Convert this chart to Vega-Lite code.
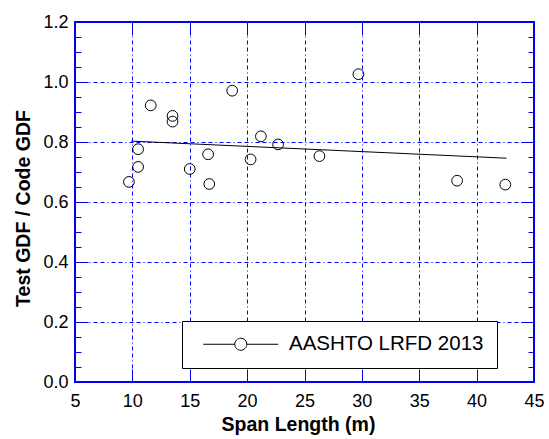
{
  "$schema": "https://vega.github.io/schema/vega-lite/v6.json",
  "width": 459,
  "height": 360,
  "autosize": {"type": "none"},
  "padding": {"left": 75, "top": 22, "right": 15, "bottom": 57},
  "background": "white",
  "config": {
    "view": {"stroke": "#0000ee", "strokeWidth": 2},
    "font": "Liberation Sans"
  },
  "datasets": {
    "pts": [
      {"span": 9.7, "ratio": 0.667, "series": "AASHTO LRFD 2013"},
      {"span": 10.5, "ratio": 0.776, "series": "AASHTO LRFD 2013"},
      {"span": 10.5, "ratio": 0.717, "series": "AASHTO LRFD 2013"},
      {"span": 11.6, "ratio": 0.922, "series": "AASHTO LRFD 2013"},
      {"span": 13.5, "ratio": 0.887, "series": "AASHTO LRFD 2013"},
      {"span": 13.5, "ratio": 0.868, "series": "AASHTO LRFD 2013"},
      {"span": 15.0, "ratio": 0.71, "series": "AASHTO LRFD 2013"},
      {"span": 16.6, "ratio": 0.759, "series": "AASHTO LRFD 2013"},
      {"span": 16.7, "ratio": 0.66, "series": "AASHTO LRFD 2013"},
      {"span": 18.7, "ratio": 0.971, "series": "AASHTO LRFD 2013"},
      {"span": 20.3, "ratio": 0.742, "series": "AASHTO LRFD 2013"},
      {"span": 21.2, "ratio": 0.819, "series": "AASHTO LRFD 2013"},
      {"span": 22.7, "ratio": 0.792, "series": "AASHTO LRFD 2013"},
      {"span": 26.3, "ratio": 0.753, "series": "AASHTO LRFD 2013"},
      {"span": 29.7, "ratio": 1.026, "series": "AASHTO LRFD 2013"},
      {"span": 38.3, "ratio": 0.671, "series": "AASHTO LRFD 2013"},
      {"span": 42.5, "ratio": 0.658, "series": "AASHTO LRFD 2013"}
    ],
    "fit": [
      {"span": 9.9, "ratio": 0.803},
      {"span": 42.6, "ratio": 0.746}
    ]
  },
  "resolve": {"axis": {"x": "independent", "y": "independent"}},
  "layer": [
    {
      "data": {"name": "pts"},
      "mark": {"type": "point", "shape": "circle", "filled": false, "size": 115, "strokeWidth": 1, "opacity": 1},
      "encoding": {
        "x": {
          "field": "span", "type": "quantitative",
          "scale": {"domain": [5, 45], "nice": false, "zero": false},
          "axis": {
            "orient": "bottom", "values": [5, 10, 15, 20, 25, 30, 35, 40, 45],
            "grid": true, "gridColor": "#0000ff", "gridDash": [4, 3, 4, 3, 1, 3], "gridWidth": 1,
            "ticks": false, "domain": false,
            "labelFontSize": 18, "labelColor": "black", "labelPadding": 10, "labelFlush": false,
            "title": "Span Length (m)", "titleFontSize": 19.5, "titleFontWeight": "bold",
            "titleColor": "black", "titlePadding": 5, "titleX": 223
          }
        },
        "y": {
          "field": "ratio", "type": "quantitative",
          "scale": {"domain": [0, 1.2], "nice": false, "zero": false},
          "axis": {
            "orient": "left", "values": [0, 0.2, 0.4, 0.6, 0.8, 1.0, 1.2], "format": ".1f",
            "grid": true, "gridColor": "#0000ff", "gridDash": [4, 3, 4, 3, 1, 3], "gridWidth": 1,
            "ticks": false, "domain": false,
            "labelFontSize": 18, "labelColor": "black", "labelPadding": 7, "labelFlush": false,
            "title": "Test GDF / Code GDF", "titleFontSize": 19.5, "titleFontWeight": "bold",
            "titleColor": "black", "titlePadding": 9, "titleY": 186
          }
        },
        "color": {
          "field": "series", "type": "nominal",
          "scale": {"range": ["black"]},
          "legend": {
            "orient": "none", "legendX": 107, "legendY": 299, "title": null,
            "strokeColor": "black", "fillColor": "white", "padding": 13,
            "symbolType": "M-6.25,0H-1M1,0H6.25M-1,0A1,1,0,1,0,1,0A1,1,0,1,0,-1,0",
            "symbolSize": 144, "symbolStrokeColor": "black", "symbolStrokeWidth": 1,
            "symbolFillColor": "white", "symbolOffset": 35.5,
            "labelOffset": 38, "labelFontSize": 20.5, "labelColor": "black",
            "labelFont": "Liberation Sans", "labelLimit": 400
          }
        }
      }
    },
    {
      "data": {"name": "fit"},
      "mark": {"type": "line", "color": "black", "strokeWidth": 1},
      "encoding": {
        "x": {
          "field": "span", "type": "quantitative",
          "scale": {"domain": [5, 45], "nice": false, "zero": false},
          "axis": {"orient": "top", "values": [10, 15, 20, 25, 30, 35, 40], "labels": false, "grid": false,
                   "domain": false, "tickSize": -13, "tickColor": "#0000ee", "tickWidth": 1, "title": null}
        },
        "y": {
          "field": "ratio", "type": "quantitative",
          "scale": {"domain": [0, 1.2], "nice": false, "zero": false},
          "axis": {"orient": "right", "values": [0.2, 0.4, 0.6, 0.8, 1.0], "labels": false, "grid": false,
                   "domain": false, "tickSize": -13, "tickColor": "#0000ee", "tickWidth": 1, "title": null}
        }
      }
    },
    {
      "data": {"name": "fit"},
      "mark": {"type": "line", "opacity": 0},
      "encoding": {
        "x": {
          "field": "span", "type": "quantitative",
          "scale": {"domain": [5, 45], "nice": false, "zero": false},
          "axis": {"orient": "bottom", "values": [10, 15, 20, 25, 30, 35, 40], "labels": false, "grid": false,
                   "domain": false, "tickSize": -13, "tickColor": "#0000ee", "tickWidth": 1, "title": null}
        },
        "y": {
          "field": "ratio", "type": "quantitative",
          "scale": {"domain": [0, 1.2], "nice": false, "zero": false},
          "axis": {"orient": "left", "values": [0.2, 0.4, 0.6, 0.8, 1.0], "labels": false, "grid": false,
                   "domain": false, "tickSize": -13, "tickColor": "#0000ee", "tickWidth": 1, "title": null}
        }
      }
    },
    {
      "data": {"name": "fit"},
      "mark": {"type": "line", "opacity": 0},
      "encoding": {
        "x": {"field": "span", "type": "quantitative", "scale": {"domain": [5, 45], "nice": false, "zero": false}, "axis": null},
        "y": {
          "field": "ratio", "type": "quantitative",
          "scale": {"domain": [0, 1.2], "nice": false, "zero": false},
          "axis": {"orient": "left", "values": [0.05, 0.1, 0.15, 0.25, 0.3, 0.35, 0.45, 0.5, 0.55, 0.65, 0.7, 0.75, 0.85, 0.9, 0.95, 1.05, 1.1, 1.15],
                   "labels": false, "grid": false, "domain": false, "tickSize": -6, "tickColor": "#0000ee", "tickWidth": 1, "title": null}
        }
      }
    },
    {
      "data": {"name": "fit"},
      "mark": {"type": "line", "opacity": 0},
      "encoding": {
        "x": {"field": "span", "type": "quantitative", "scale": {"domain": [5, 45], "nice": false, "zero": false}, "axis": null},
        "y": {
          "field": "ratio", "type": "quantitative",
          "scale": {"domain": [0, 1.2], "nice": false, "zero": false},
          "axis": {"orient": "right", "values": [0.05, 0.1, 0.15, 0.25, 0.3, 0.35, 0.45, 0.5, 0.55, 0.65, 0.7, 0.75, 0.85, 0.9, 0.95, 1.05, 1.1, 1.15],
                   "labels": false, "grid": false, "domain": false, "tickSize": -6, "tickColor": "#0000ee", "tickWidth": 1, "title": null}
        }
      }
    }
  ]
}
